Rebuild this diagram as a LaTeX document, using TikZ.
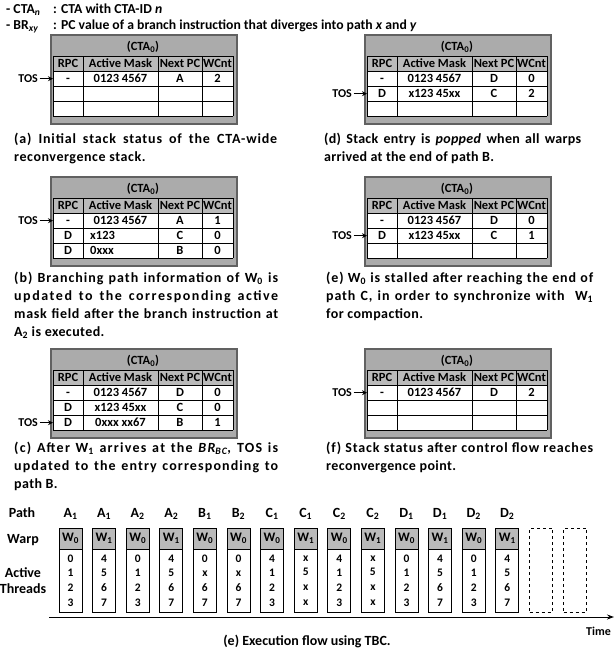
\documentclass[tikz,border=0pt]{standalone}
\usepackage{fontspec}
\setmainfont{Carlito}
\usetikzlibrary{arrows.meta}

\tikzset{
  x=1pt, y=-1pt,
  framebox/.style={draw=black!62, fill=black!33, line width=1.6pt, inner sep=0pt,
    minimum width=186pt, minimum height=89pt, anchor=north west},
  headfill/.style={fill=black!27},
  gridline/.style={draw=black, line width=0.7pt},
  tabtxt/.style={font=\fontsize{12.5}{14}\selectfont\bfseries, inner sep=0pt,
    text height=8pt, text depth=0pt},
  rowbox/.style={inner sep=0pt, minimum width=180pt, minimum height=15pt, anchor=north west},
  tostxt/.style={font=\fontsize{12}{14}\selectfont\bfseries, inner sep=0pt,
    text height=7.7pt, text depth=0pt, anchor=east},
  tosarrow/.style={-{Stealth[length=5pt,width=5pt]}, line width=1.1pt, shorten <=1.5pt},
  captxt/.style={font=\fontsize{14}{16}\selectfont\bfseries, inner sep=0pt, anchor=base west},
  legtxt/.style={font=\fontsize{13.7}{15}\selectfont\bfseries, inner sep=0pt, anchor=base west},
  lbltxt/.style={font=\fontsize{14}{16}\selectfont\bfseries, inner sep=0pt,
    text height=9pt, text depth=0pt},
  pathtxt/.style={font=\fontsize{14}{16}\selectfont\bfseries, inner sep=0pt,
    text height=9pt, text depth=0pt},
  wcell/.style={draw=black, line width=0.8pt, fill=black!27, minimum width=23pt,
    minimum height=21pt, inner sep=0pt, font=\fontsize{13}{15}\selectfont\bfseries},
  tcell/.style={draw=black, line width=0.8pt, minimum width=23pt, minimum height=63pt,
    inner sep=0pt, align=center, font=\fontsize{11.5}{14.7}\selectfont\bfseries},
  ghost/.style={draw=black, dashed, line width=0.8pt, minimum width=23pt,
    minimum height=84pt, inner sep=0pt},
  axisline/.style={-{Stealth[length=7pt,width=5pt]}, line width=1pt},
}

% letter-spaced caption line: #1 letter spacing, #2 width, #3 text
\newcommand\lsline[3]{\makebox[#2][s]{\addfontfeature{LetterSpace=#1}#3}}
\newcommand\lsfree[2]{{\addfontfeature{LetterSpace=#1}#2}}

% #1 name, #2 origin, #3 TOS row
\newcommand\ctatable[3]{%
  \begin{scope}[shift={#2}]
    \node[framebox] (#1-frame) at (0,0) {};
    \node[tabtxt] (#1-title) at (93,12.5) {(CTA\textsubscript{0})};
    \fill[headfill] (3,22) rectangle (183,37);
    \fill[white] (3,37) rectangle (183,82);
    \foreach \yy in {22,37,52,67,82} \draw[gridline] (3,\yy) -- (183,\yy);
    \foreach \xx in {3,33,108,152,183} \draw[gridline] (\xx,22) -- (\xx,82);
    \node[tabtxt] (#1-h1) at (18,29.5) {RPC};
    \node[tabtxt] (#1-h2) at (70.5,29.5) {Active Mask};
    \node[tabtxt] (#1-h3) at (130,29.5) {Next PC};
    \node[tabtxt] (#1-h4) at (167.5,29.5) {WCnt};
    \node[rowbox] (#1-r1) at (3,37) {};
    \node[rowbox] (#1-r2) at (3,52) {};
    \node[rowbox] (#1-r3) at (3,67) {};
  \end{scope}
  \node[tostxt] (#1-tos) at ([xshift=-15pt]#1-r#3.west) {TOS};
  \draw[tosarrow] (#1-tos.east) -- (#1-r#3.west);
}
% #1 name, #2 row, #3-#6 cells
\newcommand\tabrow[6]{%
  \node[tabtxt] (#1-#2a) at ([xshift=15pt]#1-r#2.west) {#3};
  \node[tabtxt] (#1-#2b) at ([xshift=67.5pt]#1-r#2.west) {#4};
  \node[tabtxt] (#1-#2c) at ([xshift=127pt]#1-r#2.west) {#5};
  \node[tabtxt] (#1-#2d) at ([xshift=164.5pt]#1-r#2.west) {#6};
}
\newcommand\tabrowL[6]{%
  \node[tabtxt] (#1-#2a) at ([xshift=15pt]#1-r#2.west) {#3};
  \node[tabtxt, anchor=west] (#1-#2b) at ([xshift=37pt]#1-r#2.west) {#4};
  \node[tabtxt] (#1-#2c) at ([xshift=127pt]#1-r#2.west) {#5};
  \node[tabtxt] (#1-#2d) at ([xshift=164.5pt]#1-r#2.west) {#6};
}

\begin{document}
\begin{tikzpicture}
\useasboundingbox (0,0) rectangle (616,651);

% legend
\node[legtxt] (leg1a) at (6,13.5) {- CTA\textsubscript{\textit{n}}};
\node[legtxt] (leg1b) at (53,13.5) {: CTA with CTA-ID \textit{n}};
\node[legtxt] (leg2a) at (6,29.5) {- BR\textsubscript{\textit{xy}}};
\node[legtxt] (leg2b) at (53,29.5) {: PC value of a branch instruction that diverges into path \textit{x} and \textit{y}};

% tables
\ctatable{ta}{(50,34)}{1}
\tabrow{ta}{1}{-}{0123 4567}{A}{2}

\ctatable{tb}{(50,176)}{1}
\tabrow{tb}{1}{-}{0123 4567}{A}{1}
\tabrowL{tb}{2}{D}{x123}{C}{0}
\tabrowL{tb}{3}{D}{0xxx}{B}{0}

\ctatable{tc}{(50,348)}{3}
\tabrow{tc}{1}{-}{0123 4567}{D}{0}
\tabrow{tc}{2}{D}{x123 45xx}{C}{0}
\tabrow{tc}{3}{D}{0xxx xx67}{B}{1}

\ctatable{td}{(364,34)}{2}
\tabrow{td}{1}{-}{0123 4567}{D}{0}
\tabrow{td}{2}{D}{x123 45xx}{C}{2}

\ctatable{te}{(364,176)}{2}
\tabrow{te}{1}{-}{0123 4567}{D}{0}
\tabrow{te}{2}{D}{x123 45xx}{C}{1}

\ctatable{tf}{(364,348)}{1}
\tabrow{tf}{1}{-}{0123 4567}{D}{2}

% captions left
\node[captxt] (ca1) at (14,143.5) {\lsline{6}{263pt}{(a) Initial stack status of the CTA-wide}};
\node[captxt] (ca2) at (14,161.5) {\lsfree{4}{reconvergence stack.}};
\node[captxt] (cb1) at (14,282.5) {\lsline{7}{264pt}{(b) Branching path information of W\textsubscript{0} is}};
\node[captxt] (cb2) at (14,300.5) {\lsline{11}{264pt}{updated to the corresponding active}};
\node[captxt] (cb3) at (14,318.5) {\lsline{5}{264pt}{mask field after the branch instruction at}};
\node[captxt] (cb4) at (14,336.5) {\lsfree{3}{A\textsubscript{2} is executed.}};
\node[captxt] (cc1) at (14,452.5) {\lsline{9}{264pt}{(c) After W\textsubscript{1} arrives at the \textit{BR\textsubscript{BC}}, TOS is}};
\node[captxt] (cc2) at (14,470.5) {\lsline{8}{264pt}{updated to the entry corresponding to}};
\node[captxt] (cc3) at (14,488.5) {\lsfree{3}{path B.}};

% captions right
\node[captxt] (cd1) at (324,143.5) {\lsline{2}{257pt}{(d) Stack entry is \textit{popped} when all warps}};
\node[captxt] (cd2) at (324,161.5) {\lsfree{2}{arrived at the end of path B.}};
\node[captxt] (ce1) at (326,282.5) {\lsline{6}{267pt}{(e) W\textsubscript{0} is stalled after reaching the end of}};
\node[captxt] (ce2) at (326,300.5) {\lsline{6}{267pt}{path C, in order to synchronize with\ \ W\textsubscript{1}}};
\node[captxt] (ce3) at (326,318.5) {\lsfree{3}{for compaction.}};
\node[captxt] (cf1) at (326,452.5) {\lsline{6}{267pt}{(f) Stack status after control flow reaches}};
\node[captxt] (cf2) at (326,470.5) {\lsfree{3}{reconvergence point.}};

% execution flow
\node[lbltxt] (lpath) at (22,513) {Path};
\node[lbltxt] (lwarp) at (23,538.5) {Warp};
\node[lbltxt] (lact) at (23,572.5) {Active};
\node[lbltxt] (lthr) at (23,588.5) {Threads};

\foreach \p/\s/\w/\ta/\tb/\tc/\td [count=\i from 0] in {
  A/1/0/0/1/2/3, A/1/1/4/5/6/7, A/2/0/0/1/2/3, A/2/1/4/5/6/7,
  B/1/0/0/x/6/7, B/2/0/0/x/6/7, C/1/0/4/1/2/3, C/1/1/x/5/x/x,
  C/2/0/4/1/2/3, C/2/1/x/5/x/x, D/1/0/0/1/2/3, D/1/1/4/5/6/7,
  D/2/0/0/1/2/3, D/2/1/4/5/6/7}
{
  \pgfmathsetmacro\cx{70.5+33.6*\i}
  \node[pathtxt] (p\i) at (\cx,513) {\p\textsubscript{\s}};
  \node[wcell] (w\i) at (\cx,538.5) {W\textsubscript{\w}};
  \node[tcell] (t\i) at (\cx,580.5) {\ta\\\tb\\\tc\\\td};
}
\node[ghost] (g1) at (541,570) {};
\node[ghost] (g2) at (575,570) {};

\coordinate (axs) at (49,617);
\coordinate (axe) at (614,617);
\draw[axisline] (axs) -- (axe);
\node[font=\fontsize{12}{14}\selectfont\bfseries, inner sep=0pt, anchor=base east] (time) at (611,635) {Time};
\node[font=\fontsize{14}{16}\selectfont\bfseries, inner sep=0pt, anchor=base] (ecap) at (307,645) {(e) Execution flow using TBC.};
\end{tikzpicture}
\end{document}
